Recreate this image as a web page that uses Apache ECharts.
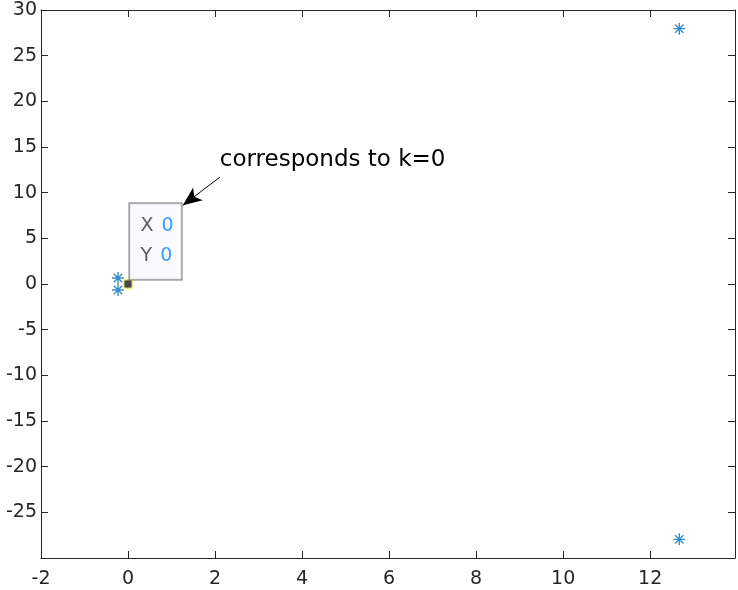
<!DOCTYPE html>
<html><head><meta charset="utf-8">
<script src="https://cdn.jsdelivr.net/npm/echarts@6/dist/echarts.min.js"></script>
<style>html,body{margin:0;padding:0;background:#fff}#c{width:738px;height:590px}</style>
</head><body><div id="c"></div>
<script>
const xTicks = [-2, 0, 2, 4, 6, 8, 10, 12];
const yTicks = [-25, -20, -15, -10, -5, 0, 5, 10, 15, 20, 25, 30];
const xRange = [-2, 13.95];
const yRange = [-30, 30];
const poleX = [-0.23, -0.23, 12.67, 12.67];
const poleY = [0.65, -0.65, 27.96, -27.96];
const tipX = [0];
const tipY = [0];
const annotationText = 'corresponds to k=0';
const annotationPos = [2.11, 13.55];
const arrowFrom = [2.11, 11.69];
const arrowTo = [1.26, 8.62];

const axisColor = '#262626';
const font = 'DejaVu Sans';
const chart = echarts.init(document.getElementById('c'), null, {renderer: 'canvas'});

function xAx(pos, showLabel) {
  return {
    type: 'value', position: pos, min: xRange[0], max: xRange[1],
    axisLine: {show: true, onZero: false, lineStyle: {color: axisColor, width: 1}},
    axisTick: {show: true, inside: true, length: 7, customValues: xTicks, lineStyle: {color: axisColor}},
    axisLabel: {show: showLabel, customValues: xTicks, color: axisColor, fontSize: 19, fontFamily: font, margin: 12},
    splitLine: {show: false}
  };
}
function yAx(pos, showLabel) {
  return {
    type: 'value', position: pos, min: yRange[0], max: yRange[1],
    axisLine: {show: true, onZero: false, lineStyle: {color: axisColor, width: 1}},
    axisTick: {show: true, inside: true, length: 7, customValues: yTicks, lineStyle: {color: axisColor}},
    axisLabel: {show: showLabel, customValues: yTicks, color: axisColor, fontSize: 19, fontFamily: font, margin: 4},
    splitLine: {show: false}
  };
}

const asterisk = 'path://M0,-10L0,10M-10,0L10,0M-7,-7L7,7M-7,7L7,-7';

chart.setOption({
  animation: false,
  backgroundColor: '#ffffff',
  grid: {left: 41, top: 10, right: 3, bottom: 32, containLabel: false},
  xAxis: [xAx('bottom', true), xAx('top', false)],
  yAxis: [yAx('left', true), yAx('right', false)],
  series: [
    {
      type: 'scatter', name: 'poles',
      data: poleX.map((x, i) => [x, poleY[i]]),
      symbol: asterisk, symbolSize: 12,
      itemStyle: {color: 'rgba(0,0,0,0)', borderColor: '#0072BD', borderWidth: 1.4},
      silent: true
    },
    {
      type: 'scatter', name: 'tip',
      data: tipX.map((x, i) => [x, tipY[i]]),
      symbol: 'roundRect', symbolSize: 9,
      itemStyle: {color: '#1a1a1a', borderColor: 'rgba(255,255,140,0.9)', borderWidth: 2},
      silent: true,
      label: {
        show: true,
        position: [7, 1],
        align: 'left', verticalAlign: 'bottom',
        formatter: p => '{k|X}{s| }{v|' + p.value[0] + '}\n{k|Y}{s| }{v|' + p.value[1] + '}',
        backgroundColor: '#f8f8fe', borderColor: '#555555', borderWidth: 1,
        padding: [8, 10, 8, 11], width: 31, lineHeight: 30,
        rich: {
          k: {color: '#333333', fontSize: 19, fontFamily: font, lineHeight: 30},
          s: {fontSize: 19, fontFamily: font, width: 8, lineHeight: 30},
          v: {color: '#0a84ff', fontSize: 19, fontFamily: font, lineHeight: 30}
        }
      },
      markLine: {
        silent: true, animation: false,
        symbol: ['none', 'arrow'], symbolSize: [12, 19],
        label: {show: false},
        lineStyle: {color: '#000000', width: 1, type: 'solid'},
        emphasis: {disabled: true},
        data: [[{coord: arrowFrom}, {coord: arrowTo}]]
      }
    }
  ]
});

const tp = chart.convertToPixel({gridIndex: 0}, annotationPos);
chart.setOption({
  graphic: [{
    type: 'text', x: tp[0], y: tp[1],
    style: {text: annotationText, fill: '#000000', fontSize: 23, fontFamily: font, align: 'left', verticalAlign: 'middle'}
  }]
});
</script>
</body></html>
